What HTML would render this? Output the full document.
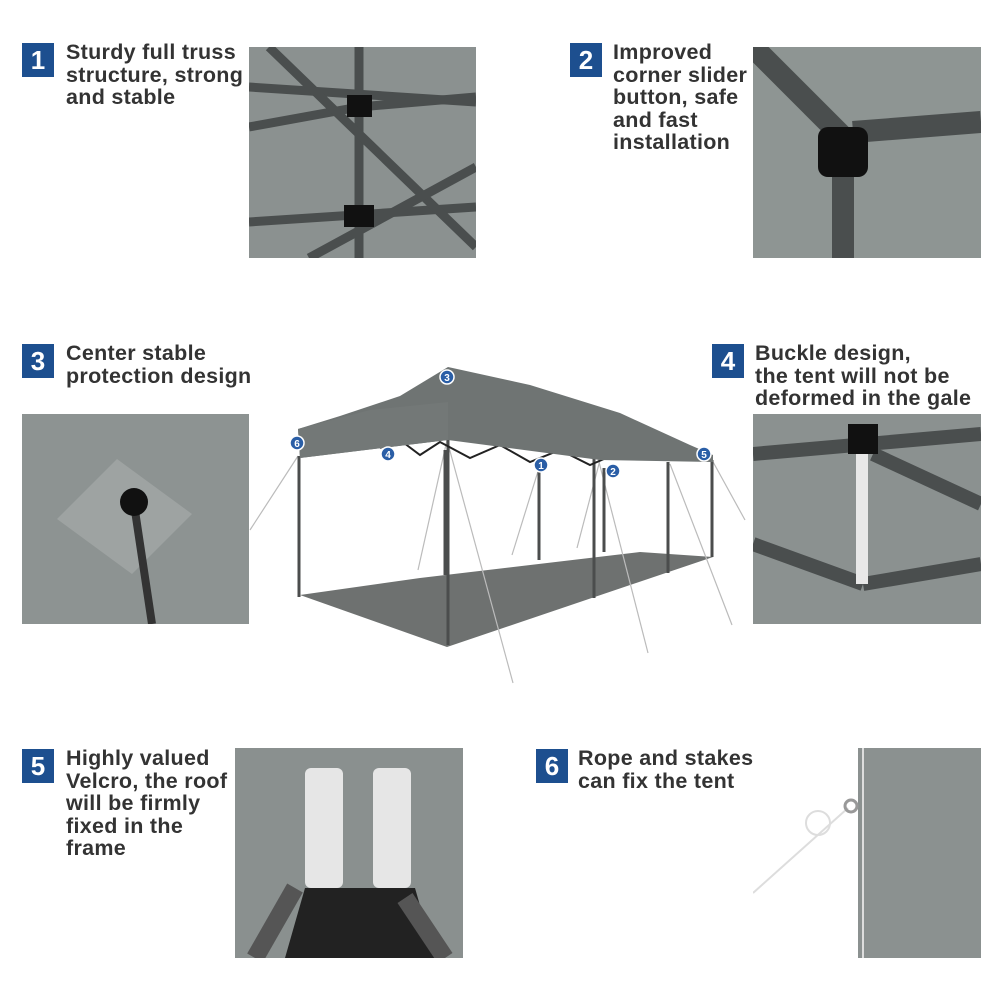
<!DOCTYPE html>
<html><head><meta charset="utf-8"><style>
body{margin:0;width:1000px;height:1000px;background:#fff;position:relative;overflow:hidden;font-family:"Liberation Sans",sans-serif}
.b{position:absolute;width:32px;height:34px;background:#1d4f8f;color:#fff;font-weight:bold;font-size:26px;text-align:center;line-height:34px}
.t{position:absolute;font-weight:bold;font-size:21.5px;letter-spacing:0.3px;line-height:22.5px;color:#333;white-space:nowrap}
.p{position:absolute;background:#8b9190;overflow:hidden}
</style></head><body>
<div class="b" style="left:22px;top:43px">1</div>
<div class="t" style="left:66px;top:41px">Sturdy full truss<br>structure, strong<br>and stable</div>
<div class="p" style="left:249px;top:47px;width:227px;height:211px">
<svg width="227" height="211"><g stroke="#4a4e4e" stroke-width="9"><line x1="110" y1="0" x2="110" y2="211"/><line x1="0" y1="40" x2="227" y2="55"/><line x1="0" y1="80" x2="110" y2="60"/><line x1="110" y1="60" x2="227" y2="50"/><line x1="0" y1="175" x2="227" y2="160"/><line x1="20" y1="0" x2="227" y2="200"/><line x1="60" y1="211" x2="227" y2="120"/></g><rect x="98" y="48" width="25" height="22" fill="#111"/><rect x="95" y="158" width="30" height="22" fill="#111"/></svg></div>
<div class="b" style="left:570px;top:43px">2</div>
<div class="t" style="left:613px;top:41px">Improved<br>corner slider<br>button, safe<br>and fast<br>installation</div>
<div class="p" style="left:753px;top:47px;width:228px;height:211px;background:#8e9593">
<svg width="228" height="211"><g stroke="#4a4e4e" stroke-width="22"><line x1="90" y1="100" x2="90" y2="211"/><line x1="0" y1="0" x2="90" y2="90"/><line x1="100" y1="85" x2="228" y2="75"/></g><rect x="65" y="80" width="50" height="50" rx="10" fill="#111"/></svg></div>
<div class="b" style="left:22px;top:344px">3</div>
<div class="t" style="left:66px;top:342px">Center stable<br>protection design</div>
<div class="p" style="left:22px;top:414px;width:227px;height:210px;background:#8d9392">
<svg width="227" height="210"><polygon points="35,105 95,45 170,100 110,160" fill="#9ea3a2"/><line x1="112" y1="90" x2="130" y2="210" stroke="#333" stroke-width="8"/><circle cx="112" cy="88" r="14" fill="#111"/></svg></div>
<div class="b" style="left:712px;top:344px">4</div>
<div class="t" style="left:755px;top:342px">Buckle design,<br>the tent will not be<br>deformed in the gale</div>
<div class="p" style="left:753px;top:414px;width:228px;height:210px">
<svg width="228" height="210"><g stroke="#4a4e4e" stroke-width="14"><line x1="0" y1="40" x2="228" y2="20"/><line x1="0" y1="130" x2="110" y2="170"/><line x1="110" y1="170" x2="228" y2="150"/><line x1="120" y1="40" x2="228" y2="90"/></g><rect x="103" y="40" width="12" height="130" fill="#e8e8e8"/><rect x="95" y="10" width="30" height="30" fill="#111"/></svg></div>
<div class="b" style="left:22px;top:749px">5</div>
<div class="t" style="left:66px;top:747px">Highly valued<br>Velcro, the roof<br>will be firmly<br>fixed in the<br>frame</div>
<div class="p" style="left:235px;top:748px;width:228px;height:210px;background:#8a908f">
<svg width="228" height="210"><rect x="70" y="20" width="38" height="120" rx="6" fill="#e6e6e6"/><rect x="138" y="20" width="38" height="120" rx="6" fill="#e6e6e6"/><polygon points="70,140 180,140 200,210 50,210" fill="#222"/><line x1="60" y1="140" x2="20" y2="210" stroke="#555" stroke-width="18"/><line x1="170" y1="150" x2="210" y2="210" stroke="#555" stroke-width="18"/></svg></div>
<div class="b" style="left:536px;top:749px">6</div>
<div class="t" style="left:578px;top:747px">Rope and stakes<br>can fix the tent</div>
<div class="p" style="left:753px;top:748px;width:228px;height:210px;background:#fff">
<svg width="228" height="210"><rect x="105" y="0" width="123" height="210" fill="#8b9190"/><line x1="110" y1="0" x2="110" y2="210" stroke="#ddd" stroke-width="2"/><line x1="0" y1="145" x2="95" y2="60" stroke="#ddd" stroke-width="2"/><circle cx="98" cy="58" r="6" fill="none" stroke="#999" stroke-width="3"/><circle cx="65" cy="75" r="12" fill="none" stroke="#ddd" stroke-width="2"/></svg></div>
<svg style="position:absolute;left:0;top:0" width="1000" height="1000">
<polygon points="300,595 420,578 640,552 713,557 447,647" fill="#6e7170"/>
<g stroke="#bbb" stroke-width="1.2"><line x1="298" y1="456" x2="250" y2="530"/><line x1="447" y1="440" x2="418" y2="570"/><line x1="447" y1="440" x2="513" y2="683"/><line x1="539" y1="468" x2="512" y2="555"/><line x1="598" y1="458" x2="648" y2="653"/><line x1="600" y1="460" x2="577" y2="548"/><line x1="670" y1="464" x2="732" y2="625"/><line x1="712" y1="460" x2="745" y2="520"/></g>
<g stroke="#4b4d4d" stroke-width="3"><line x1="445" y1="450" x2="445" y2="575"/><line x1="539" y1="465" x2="539" y2="560"/><line x1="604" y1="468" x2="604" y2="552"/><line x1="299" y1="456" x2="299" y2="597"/><line x1="448" y1="438" x2="448" y2="645"/><line x1="594" y1="456" x2="594" y2="598"/><line x1="668" y1="462" x2="668" y2="573"/><line x1="712" y1="460" x2="712" y2="557"/></g>
<polyline points="380,448 400,440 420,455 440,442 470,458 500,445 530,462 560,450 590,465 620,452" fill="none" stroke="#222" stroke-width="2"/>
<polygon points="298,429 340,416 400,396 448,367 530,385 620,413 690,445 713,455 713,462 600,460 448,440 300,458" fill="#6f7473"/>
<polygon points="298,429 370,410 448,402 448,440 300,458" fill="#737877"/>
<g fill="#2a5ea6" stroke="#fff" stroke-width="1.5"><circle cx="447" cy="377" r="7"/><circle cx="297" cy="443" r="7"/><circle cx="388" cy="454" r="7"/><circle cx="541" cy="465" r="7"/><circle cx="613" cy="471" r="7"/><circle cx="704" cy="454" r="7"/></g>
<g fill="#fff" font-size="10" font-weight="bold" text-anchor="middle" font-family="Liberation Sans,sans-serif"><text x="447" y="381">3</text><text x="297" y="447">6</text><text x="388" y="458">4</text><text x="541" y="469">1</text><text x="613" y="475">2</text><text x="704" y="458">5</text></g>
</svg>
</body></html>
